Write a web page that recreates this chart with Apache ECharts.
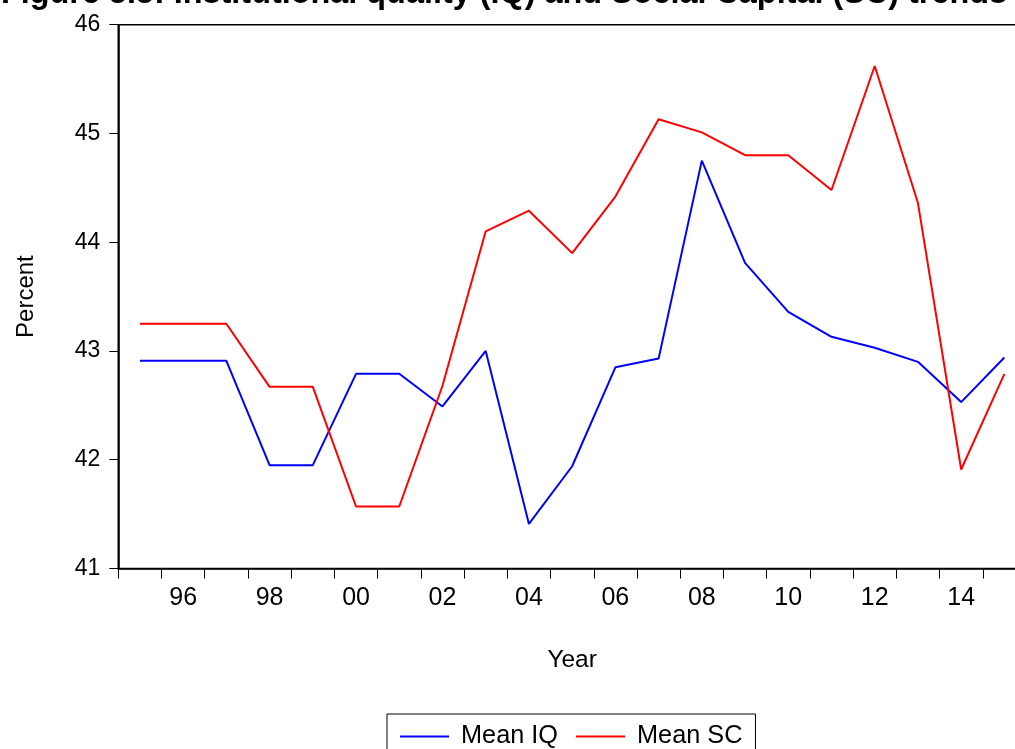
<!DOCTYPE html>
<html>
<head>
<meta charset="utf-8">
<script src="https://cdn.jsdelivr.net/npm/echarts@6/dist/echarts.min.js"></script>
<style>html,body{margin:0;padding:0;background:#fff;overflow:hidden;width:1015px;height:749px;}#c{width:1030px;height:749px;}</style>
</head>
<body>
<div id="c"></div>
<script>
const years = ['1995','1996','1997','1998','1999','2000','2001','2002','2003','2004','2005','2006','2007','2008','2009','2010','2011','2012','2013','2014','2015'];
const meanIQ = [42.91,42.91,42.91,41.95,41.95,42.79,42.79,42.49,43.00,41.41,41.94,42.85,42.93,44.75,43.81,43.36,43.13,43.03,42.90,42.53,42.94];
const meanSC = [43.25,43.25,43.25,42.67,42.67,41.57,41.57,42.68,44.10,44.29,43.90,44.42,45.13,45.01,44.80,44.80,44.48,45.62,44.36,41.91,42.79];
const yTicks = {min:41, max:46, step:1};
const FONT = 'Liberation Sans';

const chart = echarts.init(document.getElementById('c'), null, {renderer:'canvas'});
chart.setOption({
  backgroundColor:'#fff',
  animation:false,
  title:{
    text:'Figure 5.5: Institutional quality (IQ) and Social Capital (SC) trends',
    left:-4, top:-27,
    textStyle:{fontFamily:FONT, fontWeight:'bold', fontSize:32.4, color:'#000'}
  },
  grid:{left:118.3, top:24.7, width:907.7, height:543.8, show:true, borderColor:'#000', borderWidth:1.6, backgroundColor:'transparent'},
  legend:{
    left:387, top:714,
    padding:[10,13,10,13],
    borderColor:'#000', borderWidth:1,
    icon:'rect', itemWidth:49, itemHeight:2, itemGap:18,
    textStyle:{fontFamily:FONT, fontSize:25.3, color:'#000', padding:[0,0,0,7]},
    data:['Mean IQ','Mean SC']
  },
  xAxis:{
    type:'category', data:years, boundaryGap:true,
    name:'Year', nameLocation:'middle', nameGap:79,
    nameTextStyle:{fontFamily:FONT, fontSize:24.5, color:'#000'},
    axisLine:{lineStyle:{color:'#000', width:1.6}},
    axisTick:{show:true, interval:0, length:10, lineStyle:{color:'#000', width:1}},
    axisLabel:{interval:function(i){return i%2===1;}, formatter:function(v){return v.slice(2);}, fontFamily:FONT, fontSize:25, color:'#000', margin:17},
    splitLine:{show:false}
  },
  yAxis:{
    type:'value', min:yTicks.min, max:yTicks.max, interval:yTicks.step,
    name:'Percent', nameLocation:'middle', nameGap:80, nameRotate:90,
    nameTextStyle:{fontFamily:FONT, fontSize:24, color:'#000'},
    axisLine:{show:true, lineStyle:{color:'#000', width:1.6}},
    axisTick:{show:true, length:9, lineStyle:{color:'#000', width:1}},
    axisLabel:{fontFamily:FONT, fontSize:23, color:'#000', margin:18},
    splitLine:{show:false}
  },
  series:[
    {name:'Mean IQ', type:'line', data:meanIQ, symbol:'none', color:'#0000ff', lineStyle:{color:'#0000ff', width:2}},
    {name:'Mean SC', type:'line', data:meanSC, symbol:'none', color:'#ff0000', lineStyle:{color:'#ff0000', width:2}}
  ]
});
</script>
</body>
</html>
